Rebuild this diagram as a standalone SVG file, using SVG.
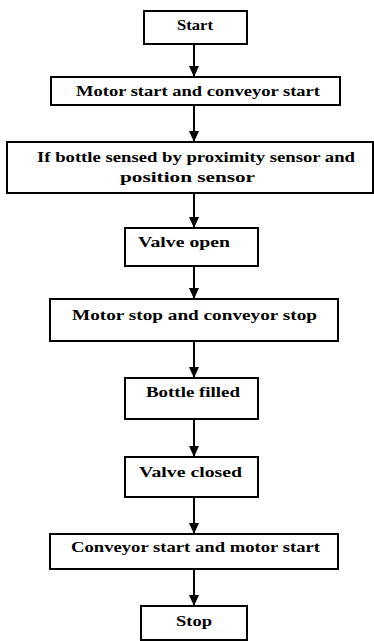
<svg xmlns="http://www.w3.org/2000/svg" width="374" height="641" viewBox="0 0 374 641">
<style>
.box{fill:#fff;stroke:#000;stroke-width:2}
.t{font-family:"Liberation Serif","Times New Roman",serif;font-weight:bold;font-size:15px;fill:#000}
.c{stroke:#000;stroke-width:2;fill:none}
</style>
<defs>
<marker id="ah" markerUnits="userSpaceOnUse" markerWidth="12" markerHeight="10" viewBox="0 0 10 9" refX="10" refY="4.5" orient="auto">
<path d="M0,0 L10,4.5 L0,9 Z" fill="#000"/>
</marker>
</defs>
<rect width="374" height="641" fill="#fff"/>
<g id="connectors">
<line class="c" x1="194" y1="44" x2="194" y2="77" marker-end="url(#ah)"/>
<line class="c" x1="194" y1="105" x2="194" y2="142" marker-end="url(#ah)"/>
<line class="c" x1="194" y1="193" x2="194" y2="228" marker-end="url(#ah)"/>
<line class="c" x1="194" y1="266" x2="194" y2="299" marker-end="url(#ah)"/>
<line class="c" x1="194" y1="341" x2="194" y2="378" marker-end="url(#ah)"/>
<line class="c" x1="194" y1="419" x2="194" y2="457" marker-end="url(#ah)"/>
<line class="c" x1="194" y1="497" x2="194" y2="534" marker-end="url(#ah)"/>
<line class="c" x1="194" y1="569" x2="194" y2="606" marker-end="url(#ah)"/>
</g>
<g id="start"><rect class="box" x="144" y="11" width="103" height="33"/><text class="t" x="177" y="30" textLength="36" lengthAdjust="spacingAndGlyphs">Start</text></g>
<g id="motor-start"><rect class="box" x="51" y="77" width="289" height="28"/><text class="t" x="76" y="96" textLength="244" lengthAdjust="spacingAndGlyphs">Motor start and conveyor start</text></g>
<g id="sensed"><rect class="box" x="7" y="142" width="366" height="51"/><text class="t" x="37" y="162" textLength="318" lengthAdjust="spacingAndGlyphs">If bottle sensed by proximity sensor and</text><text class="t" x="120" y="182" textLength="135" lengthAdjust="spacingAndGlyphs">position sensor</text></g>
<g id="valve-open"><rect class="box" x="125" y="228" width="133" height="38"/><text class="t" x="138" y="247" textLength="92" lengthAdjust="spacingAndGlyphs">Valve open</text></g>
<g id="motor-stop"><rect class="box" x="50" y="299" width="288" height="42"/><text class="t" x="72" y="320" textLength="245" lengthAdjust="spacingAndGlyphs">Motor stop and conveyor stop</text></g>
<g id="filled"><rect class="box" x="125" y="378" width="133" height="41"/><text class="t" x="146" y="397" textLength="94" lengthAdjust="spacingAndGlyphs">Bottle filled</text></g>
<g id="valve-closed"><rect class="box" x="125" y="457" width="133" height="40"/><text class="t" x="139" y="477" textLength="103" lengthAdjust="spacingAndGlyphs">Valve closed</text></g>
<g id="conveyor-start"><rect class="box" x="50" y="534" width="288" height="35"/><text class="t" x="71" y="552" textLength="249" lengthAdjust="spacingAndGlyphs">Conveyor start and motor start</text></g>
<g id="stop"><rect class="box" x="141" y="606" width="106" height="34"/><text class="t" x="176" y="626" textLength="36" lengthAdjust="spacingAndGlyphs">Stop</text></g>
</svg>
